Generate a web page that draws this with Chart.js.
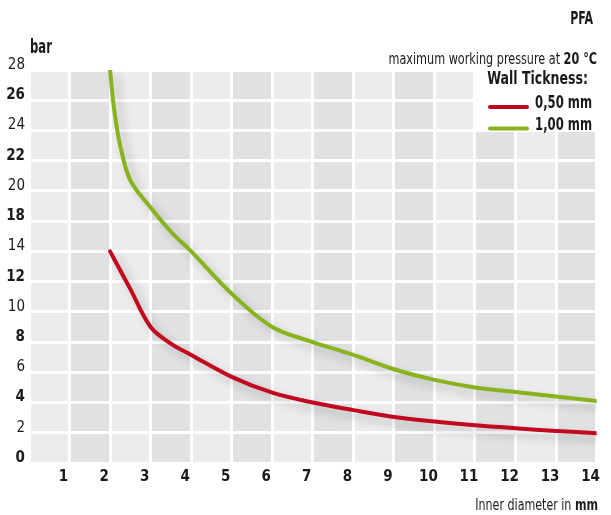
<!DOCTYPE html>
<html>
<head>
<meta charset="utf-8">
<script src="https://cdn.jsdelivr.net/npm/chart.js@4/dist/chart.umd.min.js"></script>
<style>
  html, body { margin: 0; padding: 0; background: #ffffff; }
  #wrap { width: 611px; height: 515px; position: relative; }
</style>
</head>
<body>
<div id="wrap"><canvas id="c" width="611" height="515"></canvas></div>
<script>
// ---- data ----
const diameters = [2, 2.1, 2.25, 2.5, 3, 3.5, 4, 5, 6, 7, 8, 9, 10, 11, 12, 13, 14];
const wall050 = [14, 13.5, 12.75, 11.5, 9.0, 7.9, 7.15, 5.7, 4.65, 4.0, 3.5, 3.05, 2.75, 2.5, 2.3, 2.12, 1.97];
const wall100 = [28, 25.4, 23, 20.7, 18.9, 16.6, 14, 11.2, 9.0, 8.0, 7.15, 6.2, 5.5, 5.0, 4.7, 4.4, 4.1];
const seriesNames = ['0,50 mm', '1,00 mm'];
const seriesColors = ['#c2081f', '#88b31c'];
const yTickValues = [0, 2, 4, 6, 8, 10, 12, 14, 18, 20, 22, 24, 26, 28];
const xTickValues = [1, 2, 3, 4, 5, 6, 7, 8, 9, 10, 11, 12, 13, 14];

const FONT = "'Liberation Sans Narrow', 'DejaVu Sans Condensed', 'Roboto', sans-serif";

// Value axis whose printed ticks are evenly spaced (the reference skips 16)
class SteppedScale extends Chart.LinearScale {
  buildTicks() {
    return yTickValues.map(v => ({ value: v }));
  }
  _toDecimal(value) {
    const t = yTickValues, n = t.length - 1;
    if (value <= t[0]) return 0;
    if (value >= t[n]) return 1;
    let i = 0;
    while (value > t[i + 1]) i++;
    return (i + (value - t[i]) / (t[i + 1] - t[i])) / n;
  }
  getPixelForValue(value) {
    if (value === null || value === undefined || isNaN(value)) return NaN;
    return this.getPixelForDecimal(this._toDecimal(value));
  }
  getValueForPixel(pixel) {
    const t = yTickValues;
    const d = this.getDecimalForPixel(pixel) * (t.length - 1);
    const i = Math.max(0, Math.min(t.length - 2, Math.floor(d)));
    return t[i] + (d - i) * (t[i + 1] - t[i]);
  }
}
SteppedScale.id = 'stepped';
SteppedScale.defaults = Chart.LinearScale.defaults;
Chart.register(SteppedScale);

const toPoints = arr => diameters.map((d, i) => ({ x: d, y: arr[i] }));

const backgroundPlugin = {
  id: 'cells',
  beforeDraw(chart) {
    const { ctx, chartArea } = chart;
    const xs = chart.scales.x;
    ctx.save();
    for (let n = 0; n < xTickValues[xTickValues.length - 1]; n++) {
      const x0 = xs.getPixelForValue(n);
      const x1 = xs.getPixelForValue(n + 1);
      ctx.fillStyle = (n % 2 === 0) ? '#ebeceb' : '#e0e1e3';
      ctx.fillRect(x0, chartArea.top, x1 - x0, chartArea.bottom - chartArea.top);
    }
    ctx.restore();
  }
};

const shadowPlugin = {
  id: 'lineShadow',
  beforeDatasetDraw(chart) {
    const ctx = chart.ctx;
    ctx.save();
    ctx.shadowColor = 'rgba(0,0,0,0.22)';
    ctx.shadowBlur = 10;
    ctx.shadowOffsetX = 6;
    ctx.shadowOffsetY = 6;
  },
  afterDatasetDraw(chart) {
    chart.ctx.restore();
  }
};

// draw text pieces right-aligned at xRight, horizontally condensed by sx
function drawRich(ctx, parts, xRight, y, sx) {
  const widths = parts.map(p => { ctx.font = p.font; return ctx.measureText(p.text).width; });
  const total = widths.reduce((a, b) => a + b, 0) * sx;
  ctx.save();
  ctx.translate(xRight - total, y);
  ctx.scale(sx, 1);
  ctx.textAlign = 'left';
  let x = 0;
  parts.forEach((p, i) => { ctx.font = p.font; ctx.fillText(p.text, x, 0); x += widths[i]; });
  ctx.restore();
}
function drawLeft(ctx, text, font, x, y, sx) {
  ctx.save();
  ctx.translate(x, y);
  ctx.scale(sx, 1);
  ctx.font = font;
  ctx.textAlign = 'left';
  ctx.fillText(text, 0, 0);
  ctx.restore();
}

const textPlugin = {
  id: 'texts',
  afterDraw(chart) {
    const { ctx } = chart;
    ctx.save();
    ctx.textBaseline = 'middle';
    ctx.fillStyle = '#1a1a1a';
    drawRich(ctx, [{ text: 'PFA', font: 'bold 17px ' + FONT }], 593, 20, 0.72);
    drawLeft(ctx, 'bar', 'bold 19px ' + FONT, 30, 48, 0.68);
    drawRich(ctx, [
      { text: 'maximum working pressure at ', font: '16px ' + FONT },
      { text: '20 °C', font: 'bold 16px ' + FONT }
    ], 597, 60, 0.78);
    // legend box
    ctx.fillStyle = '#ffffff';
    ctx.fillRect(474, 68, 137, 64);
    ctx.fillStyle = '#1a1a1a';
    drawRich(ctx, [{ text: 'Wall Tickness:', font: 'bold 17px ' + FONT }], 588, 80, 0.82);
    const rows = [103.5, 125.5];
    const lineY = [107, 128.5];
    chart.data.datasets.forEach((ds, i) => {
      ctx.strokeStyle = ds.borderColor;
      ctx.lineWidth = 4;
      ctx.lineCap = 'round';
      ctx.beginPath();
      ctx.moveTo(490, lineY[i]);
      ctx.lineTo(527, lineY[i]);
      ctx.stroke();
      ctx.fillStyle = '#1a1a1a';
      drawRich(ctx, [{ text: ds.label, font: 'bold 17px ' + FONT }], 592, rows[i], 0.76);
    });
    drawRich(ctx, [
      { text: 'Inner diameter in ', font: '16px ' + FONT },
      { text: 'mm', font: 'bold 16px ' + FONT }
    ], 598, 506, 0.77);
    ctx.restore();
  }
};

new Chart(document.getElementById('c'), {
  type: 'line',
  data: {
    datasets: [
      { label: seriesNames[0], data: toPoints(wall050), borderColor: seriesColors[0] },
      { label: seriesNames[1], data: toPoints(wall100), borderColor: seriesColors[1] }
    ]
  },
  options: {
    responsive: false,
    animation: false,
    devicePixelRatio: 1,
    layout: { padding: { top: 70, right: 13, left: 0, bottom: 0 } },
    elements: {
      point: { radius: 0 },
      line: { borderWidth: 4, tension: 0.35, fill: false, borderCapStyle: 'round', borderJoinStyle: 'round' }
    },
    plugins: { legend: { display: false }, tooltip: { enabled: false }, title: { display: false } },
    scales: {
      x: {
        type: 'linear',
        min: 0, max: 14,
        afterBuildTicks: s => { s.ticks = [0].concat(xTickValues).map(v => ({ value: v })); },
        afterFit: s => { s.height = 52; },
        grid: { color: '#ffffff', lineWidth: 3, drawTicks: false },
        border: { display: false },
        ticks: {
          autoSkip: false, maxRotation: 0, padding: 5, labelOffset: -6,
          color: '#1a1a1a',
          font: { family: FONT, size: 15, weight: 'bold' },
          callback: v => (v === 0 ? '' : String(v))
        }
      },
      y: {
        type: 'stepped',
        min: 0, max: 28,
        afterFit: s => { s.width = 29; },
        grid: { color: '#ffffff', lineWidth: 3, drawTicks: false },
        border: { display: false },
        ticks: {
          autoSkip: false, padding: 4, labelOffset: -5,
          color: '#1a1a1a',
          font: ctx => ({ family: FONT, size: 15, weight: (ctx.index % 2 === 0) ? 'bold' : 'normal' }),
          callback: v => String(v)
        }
      }
    }
  },
  plugins: [backgroundPlugin, shadowPlugin, textPlugin]
});
</script>
</body>
</html>
